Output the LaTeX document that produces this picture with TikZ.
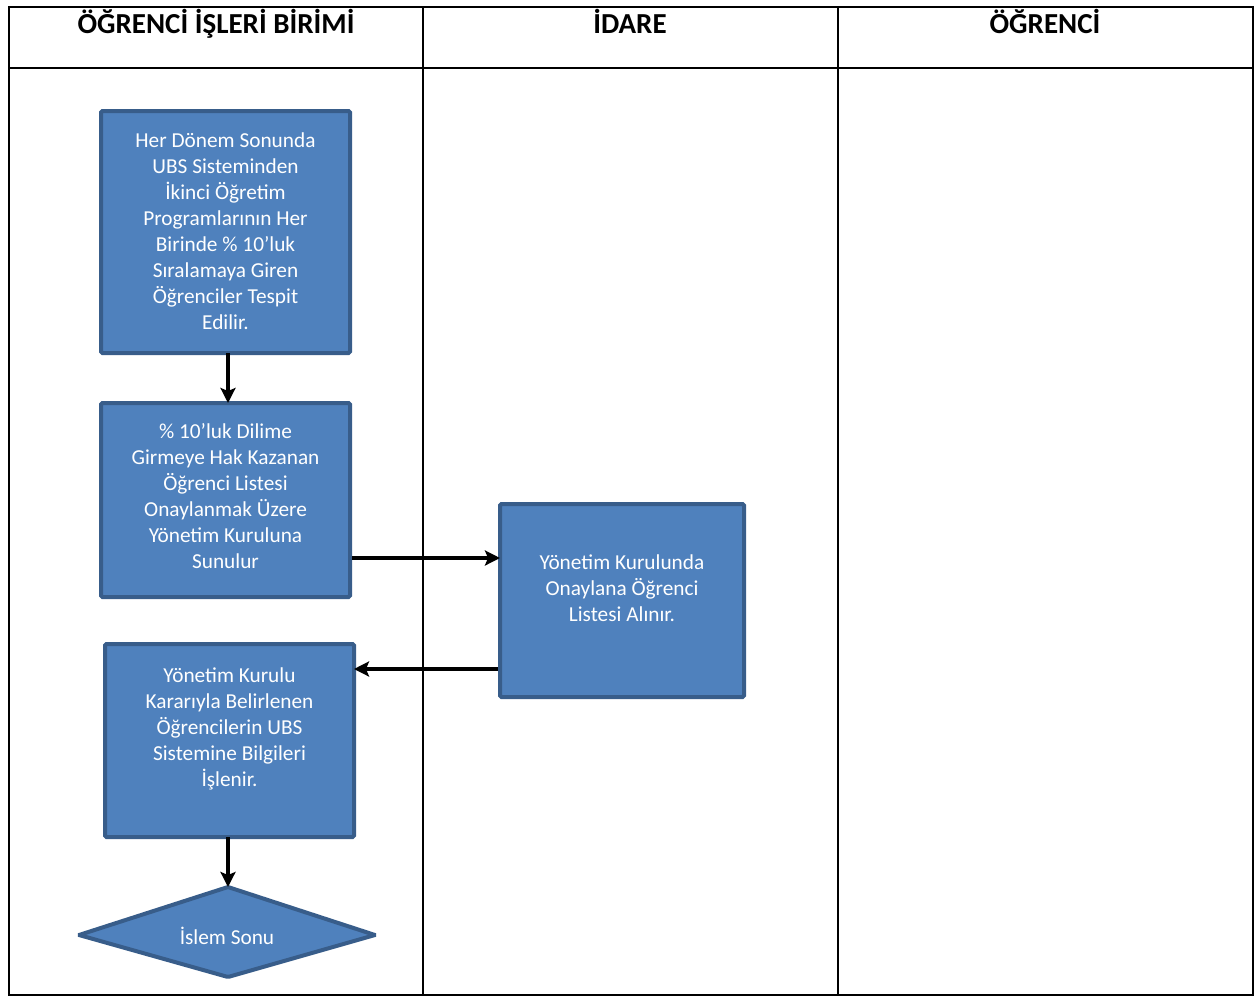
\documentclass[tikz,border=0pt]{standalone}
\usepackage{fontspec}
\setmainfont{Carlito}
\usetikzlibrary{arrows.meta,shapes.geometric}
\definecolor{boxfill}{HTML}{4F81BD}
\definecolor{boxline}{HTML}{385D8A}
\begin{document}
\begin{tikzpicture}[x=1pt,y=-1pt,
  procbox/.style={draw=boxline,fill=boxfill,line width=4pt,rounded corners=1.5pt},
  boxtext/.style={text=white,align=center,font=\fontsize{21.3}{26}\selectfont},
  flow/.style={line width=3.5pt,-{Stealth[length=15pt,width=15pt,inset=3pt]}},
  grid/.style={line width=2pt},
  head/.style={anchor=base,font=\fontsize{29}{30}\selectfont\bfseries}]
\useasboundingbox (0,0) rectangle (1255,996);
\fill[white] (0,0) rectangle (1255,996);
% table
\draw[grid] (9,7) rectangle (1253,995);
\draw[grid] (9,68) -- (1253,68);
\draw[grid] (423,7) -- (423,995);
\draw[grid] (838,7) -- (838,995);
\node[head] (h1) at (216,33) {ÖĞRENCİ İŞLERİ BİRİMİ};
\node[head] (h2) at (630,33) {İDARE};
\node[head] (h3) at (1045,33) {ÖĞRENCİ};
% boxes
\draw[procbox] (101,111) rectangle (350,353);
\node[boxtext] (t1) at (225.5,231) {Her Dönem Sonunda\\UBS Sisteminden\\İkinci Öğretim\\Programlarının Her\\Birinde \% 10’luk\\Sıralamaya Giren\\Öğrenciler Tespit\\Edilir.};
\coordinate (b1s) at (228,353);
\draw[procbox] (101,403) rectangle (350,597);
\node[boxtext] (t2) at (225.5,496) {\% 10’luk Dilime\\Girmeye Hak Kazanan\\Öğrenci Listesi\\Onaylanmak Üzere\\Yönetim Kuruluna\\Sunulur};
\coordinate (b2n) at (228,403);
\coordinate (b2e) at (352,558);
\draw[procbox] (500,504) rectangle (744,697);
\node[boxtext] (t3) at (622,588) {Yönetim Kurulunda\\Onaylana Öğrenci\\Listesi Alınır.};
\coordinate (b3w) at (500,558);
\coordinate (b3wb) at (498,669);
\draw[procbox] (105,644) rectangle (354,837);
\node[boxtext] (t4) at (229.5,729) {Yönetim Kurulu\\Kararıyla Belirlenen\\Öğrencilerin UBS\\Sistemine Bilgileri\\İşlenir.};
\coordinate (b4e) at (354,669);
\coordinate (b4s) at (228,837);
\draw[procbox,rounded corners=1pt] (79,935) -- (228,887) -- (375,935) -- (228,977) -- cycle;
\node[boxtext] (t5) at (227,936) {İslem Sonu};
\coordinate (dn) at (228,887);
% arrows
\draw[flow] (b1s) -- (b2n);
\draw[flow] (b2e) -- (b3w);
\draw[flow] (b3wb) -- (b4e);
\draw[flow] (b4s) -- (dn);
\end{tikzpicture}
\end{document}
